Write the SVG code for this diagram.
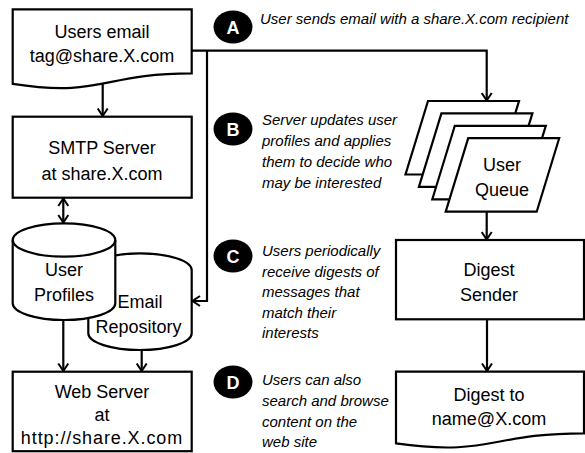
<svg xmlns="http://www.w3.org/2000/svg" width="585" height="453" viewBox="0 0 585 453">
  <style>
    .shape { fill: #fff; stroke: #000; stroke-width: 2.2; }
    .wire { fill: none; stroke: #000; stroke-width: 2.2; }
    .lbl { font-family: "Liberation Sans", Arial, sans-serif; font-size: 18px; text-anchor: middle; fill: #000; }
    .note { font-family: "Liberation Sans", Arial, sans-serif; font-size: 15px; font-style: italic; fill: #000; }
    .badge { fill: #000; }
    .badge-txt { font-family: "Liberation Sans", Arial, sans-serif; font-size: 18px; font-weight: bold; text-anchor: middle; fill: #fff; }
  </style>
  <defs>
    <marker id="ah" viewBox="0 0 10 12" refX="8.5" refY="6" markerWidth="10" markerHeight="12" markerUnits="userSpaceOnUse" orient="auto-start-reverse">
      <path d="M1,1 L8.5,6 L1,11" fill="none" stroke="#000" stroke-width="2"/>
    </marker>
  </defs>
  <rect width="585" height="453" fill="#fff"/>

  <!-- connectors -->
  <g id="connectors">
    <path class="wire" d="M102.7,84 V116" marker-end="url(#ah)"/>
    <path class="wire" d="M63.3,198.5 V222.5" marker-start="url(#ah)" marker-end="url(#ah)"/>
    <path class="wire" d="M191.7,50.7 H486.7 V100.5" marker-end="url(#ah)"/>
    <path class="wire" d="M207,50.7 V301 H192.5" marker-end="url(#ah)"/>
    <path class="wire" d="M63.3,320 V371" marker-end="url(#ah)"/>
    <path class="wire" d="M141.7,350 V371" marker-end="url(#ah)"/>
    <path class="wire" d="M486.7,211.7 V239.5" marker-end="url(#ah)"/>
    <path class="wire" d="M487,319.3 V371" marker-end="url(#ah)"/>
  </g>

  <!-- incoming email document -->
  <g id="users-email">
    <path class="shape" d="M12.7,9.3 H191.7 V73.3 C102,73.3 102,97.7 12.7,83.8 Z"/>
    <text class="lbl" x="102" y="37.5">Users email</text>
    <text class="lbl" x="102" y="62">tag@share.X.com</text>
  </g>

  <g id="smtp-server">
    <rect class="shape" x="12.7" y="116.7" width="179" height="81"/>
    <text class="lbl" x="102" y="154">SMTP Server</text>
    <text class="lbl" x="102" y="179.5">at share.X.com</text>
  </g>

  <!-- storage cylinders (repository sits behind profiles) -->
  <g id="email-repository">
    <path class="shape" d="M88.3,270 A51.7,16.7 0 0 1 191.7,270 V333.3 A51.7,16.7 0 0 1 88.3,333.3 Z"/>
    <text class="lbl" x="140" y="307.7">Email</text>
    <text class="lbl" x="138.5" y="332.7">Repository</text>
  </g>

  <g id="user-profiles">
    <path class="shape" d="M12.7,240 A51.3,16.7 0 0 1 115.3,240 V303.3 A51.3,16.7 0 0 1 12.7,303.3 Z"/>
    <path class="wire" d="M12.7,240 A51.3,16.7 0 0 0 115.3,240"/>
    <text class="lbl" x="64" y="276">User</text>
    <text class="lbl" x="64" y="301">Profiles</text>
  </g>

  <g id="web-server">
    <rect class="shape" x="12.7" y="371.7" width="179" height="79.5"/>
    <text class="lbl" x="102" y="397.7">Web Server</text>
    <text class="lbl" x="102" y="421">at</text>
    <text class="lbl" x="102" y="444.3" letter-spacing="0.9">http://share.X.com</text>
  </g>

  <!-- stacked per-user queues -->
  <g id="user-queue">
    <polygon class="shape" points="428,101 519,101 496.5,174.5 405.5,174.5"/>
    <polygon class="shape" points="441.4,113.4 532.4,113.4 509.9,186.9 418.9,186.9"/>
    <polygon class="shape" points="454.8,125.8 545.8,125.8 523.3,199.3 432.3,199.3"/>
    <polygon class="shape" points="468.2,138.2 559.2,138.2 536.7,211.7 445.7,211.7"/>
    <text class="lbl" x="502" y="171">User</text>
    <text class="lbl" x="502" y="196">Queue</text>
  </g>

  <g id="digest-sender">
    <rect class="shape" x="396" y="240" width="188" height="79.3"/>
    <text class="lbl" x="489" y="276">Digest</text>
    <text class="lbl" x="489" y="301">Sender</text>
  </g>

  <g id="digest-doc">
    <path class="shape" d="M396,371.7 H584 V433.3 C490,433.3 490,456.8 396,443.4 Z"/>
    <text class="lbl" x="489" y="401">Digest to</text>
    <text class="lbl" x="489" y="425">name@X.com</text>
  </g>

  <!-- step annotations -->
  <g id="step-a">
    <ellipse class="badge" cx="233" cy="27" rx="19.5" ry="16.5"/>
    <text class="badge-txt" x="233" y="33.5">A</text>
    <text class="note" x="260" y="24">User sends email with a share.X.com recipient</text>
  </g>

  <g id="step-b">
    <ellipse class="badge" cx="233" cy="129" rx="19.5" ry="16.5"/>
    <text class="badge-txt" x="233" y="135.5">B</text>
    <text class="note" x="262" y="125">Server updates user</text>
    <text class="note" x="262" y="146">profiles and applies</text>
    <text class="note" x="262" y="167">them to decide who</text>
    <text class="note" x="262" y="188">may be interested</text>
  </g>

  <g id="step-c">
    <ellipse class="badge" cx="233" cy="256" rx="19.5" ry="16.5"/>
    <text class="badge-txt" x="233" y="262.5">C</text>
    <text class="note" x="262" y="256">Users periodically</text>
    <text class="note" x="262" y="276.5">receive digests of</text>
    <text class="note" x="262" y="297">messages that</text>
    <text class="note" x="262" y="317.5">match their</text>
    <text class="note" x="262" y="338">interests</text>
  </g>

  <g id="step-d">
    <ellipse class="badge" cx="233" cy="382" rx="19.5" ry="16.5"/>
    <text class="badge-txt" x="233" y="388.5">D</text>
    <text class="note" x="262" y="385">Users can also</text>
    <text class="note" x="262" y="406">search and browse</text>
    <text class="note" x="262" y="427">content on the</text>
    <text class="note" x="262" y="447">web site</text>
  </g>
</svg>
